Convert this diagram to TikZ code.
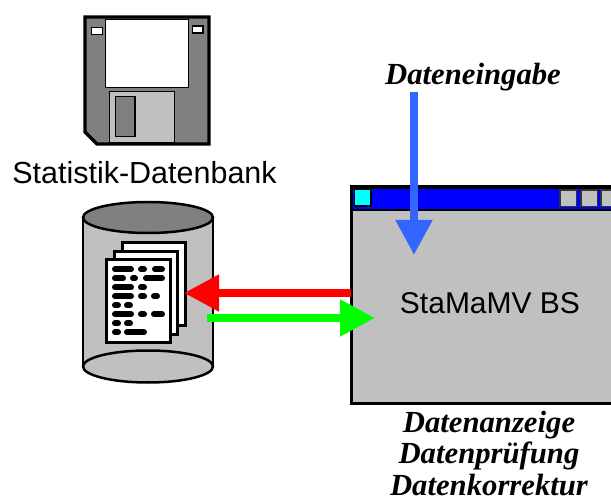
\documentclass[tikz,border=0pt]{standalone}
\usepackage{fontspec}
\setmainfont{Liberation Serif}
\setsansfont{Liberation Sans}
\usetikzlibrary{arrows.meta,calc}
\definecolor{DiskGray}{HTML}{808080}
\definecolor{PanelGray}{HTML}{C0C0C0}
\definecolor{TitleBlue}{HTML}{0000FF}
\definecolor{TitleCyan}{HTML}{00FFFF}
\definecolor{InputBlue}{HTML}{3366FF}
\definecolor{FlowRed}{HTML}{FF0000}
\definecolor{FlowGreen}{HTML}{00FF00}
\tikzset{
  outline/.style={draw=black,line width=2.5pt},
  thinline/.style={draw=black,line width=1.4pt},
  thickline/.style={draw=black,line width=3.2pt},
  sanslabel/.style={font=\sffamily\fontsize{30.5}{34}\selectfont,inner sep=0pt},
  seriflabel/.style={font=\rmfamily\bfseries\itshape\fontsize{30.7}{34}\selectfont,inner sep=0pt,anchor=base},
  flowarrow/.style={line width=8pt,-{Triangle[length=35pt,width=35pt]}}
}
\begin{document}
\begin{tikzpicture}[x=1pt,y=-1pt]
    \useasboundingbox (0,0) rectangle (611,497);
    % disk
    \draw[thickline,fill=DiskGray,miter limit=2] (85,17) -- (209,17) -- (209,144) -- (97,144) -- (85,132) -- cycle;
    \draw[thinline,fill=white] (105.5,19.5) rectangle (188.5,87.5);
    \draw[thinline,fill=PanelGray] (109.5,91.5) rectangle (174.5,143);
    \draw[thinline,fill=DiskGray] (115.5,96.5) rectangle (135,136.5);
    \draw[thinline,fill=white] (91.5,27.5) rectangle (102.5,34.5);
    \draw[thinline,fill=white] (192.5,26) rectangle (203,33);
    \node[sanslabel] (dbLabel) at (144.5,173) {Statistik-Datenbank};
    % cylinder
    \path[fill=PanelGray] (83,217) -- (83,367) arc[start angle=180,end angle=360,x radius=65,y radius=-16] -- (213,217) -- cycle;
    \draw[outline] (83,217) -- (83,367) (213,217) -- (213,367);
    \draw[outline,fill=DiskGray] (148,217.5) ellipse[x radius=65,y radius=15.5];
    \draw[outline,fill=PanelGray] (148,366.5) ellipse[x radius=65,y radius=16];
    % pages
    \foreach \px/\py/\name in {122/243/backPage,114/251.5/midPage,106.5/259.5/frontPage} {
     \draw[outline,line width=3pt,fill=white] (\px,\py) rectangle ++(63.5,83);
     \coordinate (\name) at (\px,\py);
    }
    \foreach \row/\xa/\xb in {
      269.3/115/131,269.3/141/144,269.3/155/162,
      278.3/115/123,278.3/133/135,278.3/146/162,
      287.3/115/131,287.3/141/144,
      296.3/115/131,296.3/141/144,296.3/154/157,
      305.3/115/118,305.3/127/130,
      314.3/115/131,314.3/141/144,314.3/154/162,
      323.3/115/118,323.3/127/130,
      332.3/115/118,332.3/127/144} {
     \draw[line width=6pt,line cap=round] (\xa,\row) -- (\xb,\row);
    }
    % window
    \node[draw=black,line width=3pt,fill=PanelGray,minimum width=266pt,minimum height=217pt,inner sep=0pt,outer sep=0pt,anchor=north west] (bsWindow) at (351,186.5) {};
    \draw[fill=TitleBlue,draw=black,line width=2pt] (352,188) rectangle (616,210);
    \draw[thinline,fill=TitleCyan] (354.5,189.5) rectangle (371,206);
    \foreach \bx in {560,581,601} {
     \draw[draw=black!80,line width=1.2pt,fill=PanelGray] (\bx,190) rectangle ++(16.5,16.5);
    }
    \node[sanslabel,font=\sffamily\fontsize{30}{34}\selectfont] (bsLabel) at (490,303) {StaMaMV BS};
    % arrows
    \node[seriflabel] (inputLabel) at (473,85) {Dateneingabe};
    \coordinate (inputStart) at (414,92);
    \coordinate (inputTip) at (414,255);
    \coordinate (redTip) at (184,293);
    \coordinate (greenStart) at (207,318);
    \coordinate (greenTip) at (375,318);
    \draw[flowarrow,InputBlue] (inputStart) -- (inputTip);
    \draw[flowarrow,FlowRed] (bsWindow.west |- redTip) -- (redTip);
    \draw[flowarrow,FlowGreen] (greenStart) -- (greenTip);
    \node[seriflabel] (outLabelA) at (489,432) {Datenanzeige};
    \node[seriflabel] (outLabelB) at (489,463) {Datenprüfung};
    \node[seriflabel] (outLabelC) at (489,495) {Datenkorrektur};
\end{tikzpicture}
\end{document}
